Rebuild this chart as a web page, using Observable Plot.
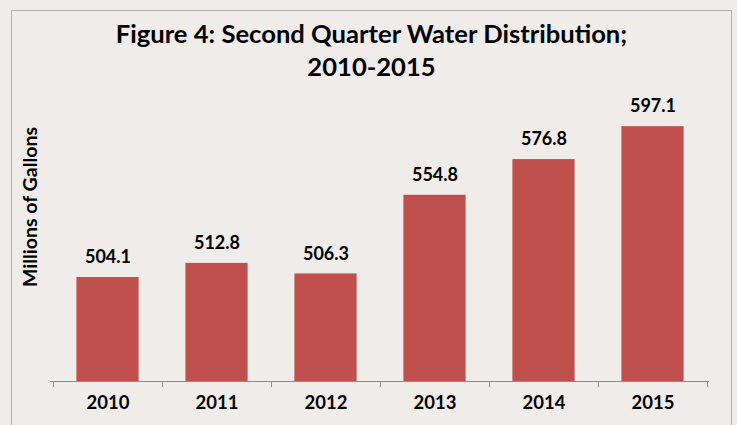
<!DOCTYPE html>
<html>
<head>
<meta charset="utf-8">
<script src="https://cdn.jsdelivr.net/npm/d3@7"></script>
<script src="https://cdn.jsdelivr.net/npm/@observablehq/plot@0.6"></script>
<style>
  html, body { margin: 0; padding: 0; }
  body { width: 737px; height: 425px; overflow: hidden; position: relative; background: #efece9; font-family: Lato, "Open Sans", sans-serif; }
  #frame { position: absolute; left: 11px; top: 10px; width: 721px; height: 500px; border: 1px solid #b0b0b0; box-sizing: border-box; }
  #title { position: absolute; left: 11px; width: 721px; top: 17px; text-align: center; font-weight: bold; font-size: 25.6px; line-height: 33px; color: #000; }
  #ytitle { position: absolute; left: -70px; top: 196px; width: 200px; height: 22px; line-height: 22px; text-align: center; font-weight: bold; font-size: 19.5px; transform: rotate(-90deg); transform-origin: 50% 50%; color: #000; white-space: nowrap; }
  #chart { position: absolute; left: 0; top: 0; }
</style>
</head>
<body>
<div id="frame"></div>
<div id="chart"></div>
<div id="title">Figure 4: Second Quarter Water Distribution;<br>2010-2015</div>
<div id="ytitle">Millions of Gallons</div>
<script>
const years = ["2010", "2011", "2012", "2013", "2014", "2015"];
const values = [504.1, 512.8, 506.3, 554.8, 576.8, 597.1];
const yDomain = [440, 620];

const data = years.map((y, i) => ({year: y, value: values[i]}));

// boundary tick marks between categories (uses the band scale)
function boundaryTicks(index, scales, values, dimensions) {
  const x = scales.x;
  const bw = x.bandwidth ? x.bandwidth() : 0;
  const y0 = dimensions.height - dimensions.marginBottom;
  const g = d3.create("svg:g").attr("stroke", "#8c8c8c").attr("stroke-width", 1);
  const pos = years.map(d => x(d));
  pos.push(x(years[years.length - 1]) + bw);
  for (const p of pos) {
    g.append("line")
      .attr("x1", Math.round(p) + 0.5).attr("x2", Math.round(p) + 0.5)
      .attr("y1", y0).attr("y2", y0 + 6);
  }
  return g.node();
}

const chart = Plot.plot({
  width: 737,
  height: 425,
  marginLeft: 50,
  marginRight: 28,
  marginTop: 89,
  marginBottom: 44,
  style: { background: "transparent", fontFamily: "Lato, 'Open Sans', sans-serif" },
  x: { domain: years, padding: 0, axis: null },
  y: { domain: yDomain, axis: null },
  marks: [
    Plot.barY(data, { x: "year", y1: yDomain[0], y2: "value", fill: "#c0504d", insetLeft: 23.4, insetRight: 23.4 }),
    Plot.ruleY([yDomain[0]], { stroke: "#8c8c8c", strokeWidth: 1 }),
    boundaryTicks,
    Plot.text(data, { x: "year", y: "value", text: d => d.value.toFixed(1), dy: -20, fontSize: 18, fontWeight: "bold", fill: "#000" }),
    Plot.text(years, { x: d => d, frameAnchor: "bottom", dy: 27.5, text: d => d, fontSize: 18.5, fontWeight: "bold", fill: "#000" })
  ]
});
document.getElementById("chart").appendChild(chart);
</script>
</body>
</html>
